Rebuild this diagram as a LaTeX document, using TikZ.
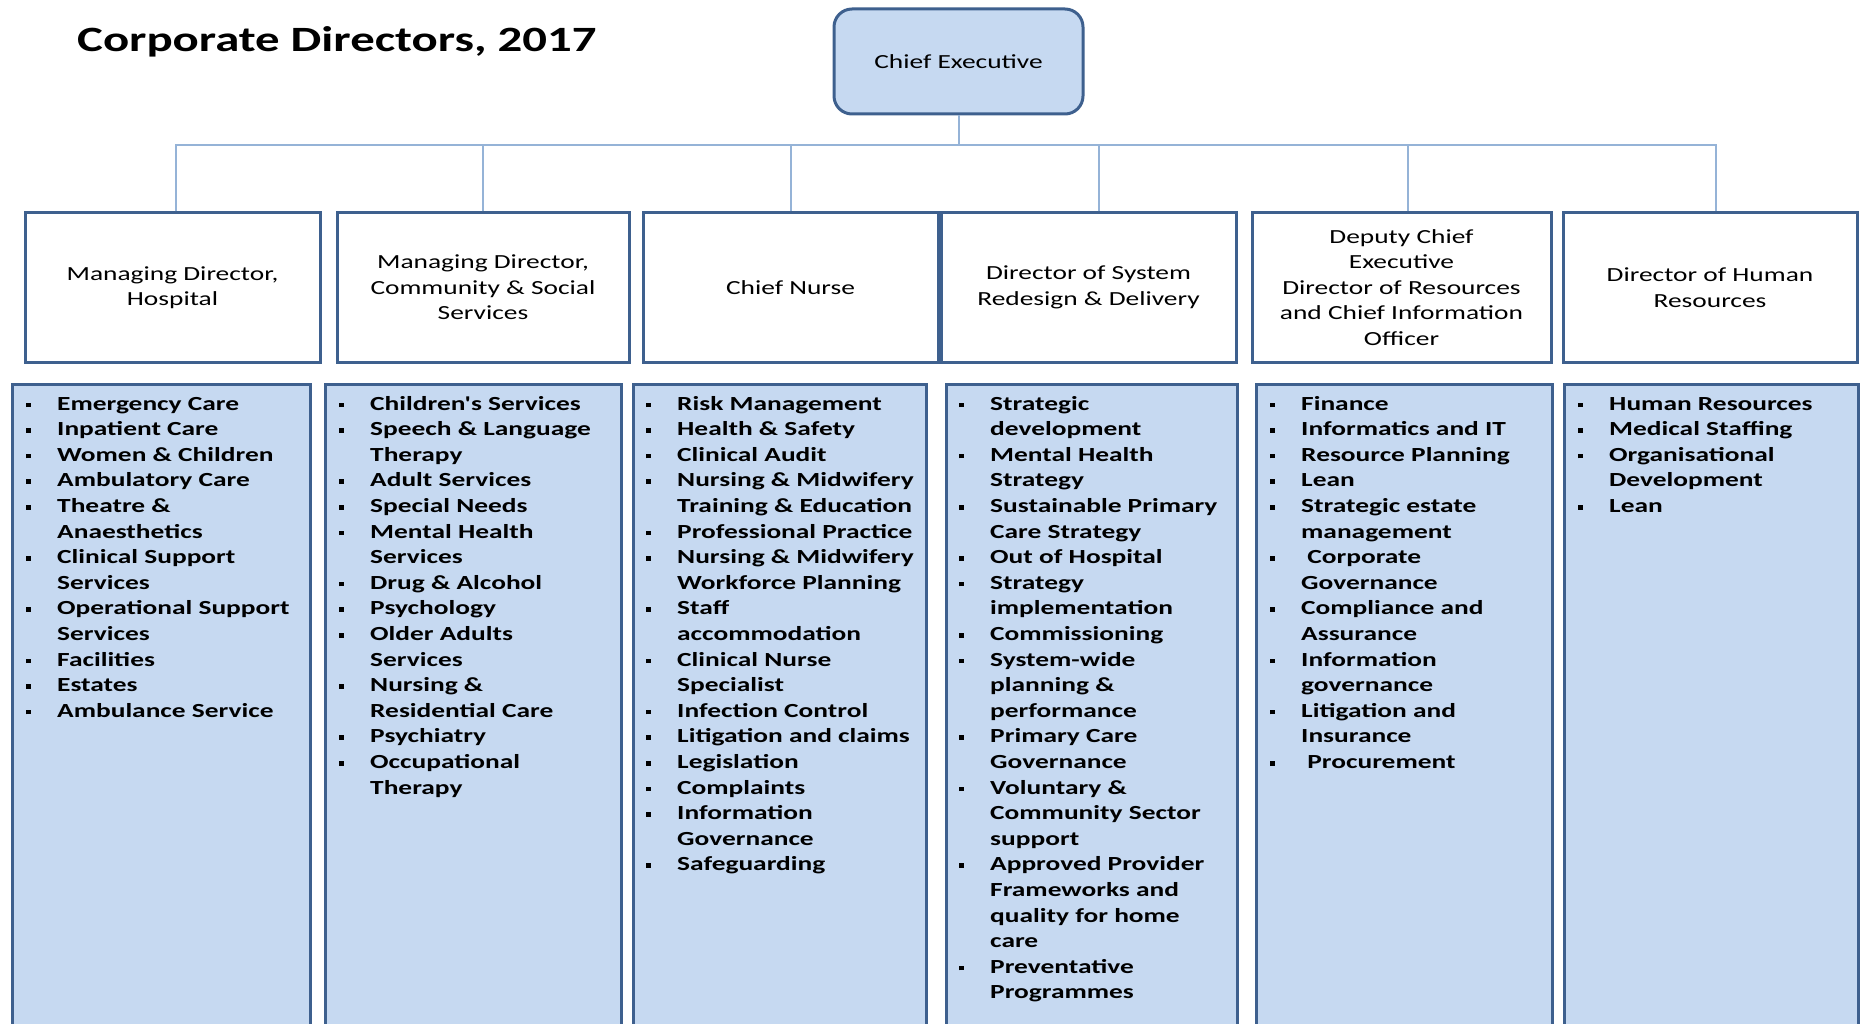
\documentclass[tikz,border=0pt]{standalone}
\usepackage{fontspec}
\usepackage{tikz}
\newfontfamily\chartfont[FakeStretch=1.37]{Carlito}
\definecolor{boxfill}{RGB}{198,217,241}
\definecolor{boxedge}{RGB}{62,96,142}
\definecolor{linkblue}{RGB}{149,179,215}
\newcommand{\bl}{\strut\makebox[33pt][l]{\hspace{2pt}\raisebox{3pt}{\rule{4.5pt}{4.5pt}}}}
\newcommand{\nb}{\strut\hspace*{33pt}}

\begin{document}
\begin{tikzpicture}[x=1pt,y=1pt,yscale=-1,xscale=1,
  dirbox/.style={draw=boxedge, line width=3pt, fill=white, minimum height=149pt, inner sep=0pt, align=center, font=\chartfont\fontsize{20}{25.5}\selectfont},
  listbox/.style={draw=boxedge, line width=3pt, fill=boxfill, minimum height=656pt, inner sep=0pt},
  listtext/.style={anchor=north west, inner sep=0pt, align=left, font=\chartfont\bfseries\fontsize{20}{25.6}\selectfont},
  link/.style={draw=linkblue, line width=2pt}]
\clip (0,0) rectangle (1860,1024);

% Text Node
\node [anchor=base west, inner sep=0pt, font=\chartfont\bfseries\fontsize{35.6}{40}\selectfont] (title) at (77,52) {Corporate Directors, 2017};

%Shape: Rounded Rect
\node [draw=boxedge, line width=3pt, fill=boxfill, rounded corners=18pt, minimum width=249pt, minimum height=105pt, font=\chartfont\fontsize{20}{25.5}\selectfont] (ceo) at (958.5,61.5) {Chief Executive};

%Shape: Rectangle
\node [dirbox, minimum width=295pt] (hosp) at (172.5,287.5) {Managing Director,\\Hospital};
\node [dirbox, minimum width=292pt] (comm) at (483,287.5) {Managing Director,\\Community \& Social\\Services};
\node [dirbox, minimum width=295pt] (nurse) at (790.5,287.5) {Chief Nurse};
\node [dirbox, minimum width=295pt] (sysd) at (1088.5,287.5) {Director of System\\Redesign \& Delivery};
\node [dirbox, minimum width=299pt] (dce) at (1401.5,287.5) {Deputy Chief\\Executive\\Director of Resources\\and Chief Information\\Officer};
\node [dirbox, minimum width=294pt] (hr) at (1710,287.5) {Director of Human\\Resources};

%Straight Lines
\coordinate (bus) at (0,145);
\draw [link] (ceo.south) -- (ceo.south |- bus);
\draw [link] ([xshift=3pt]hosp.north) -- ([xshift=3pt]hosp.north |- bus) -- ([xshift=6pt]hr.north |- bus) -- ([xshift=6pt]hr.north);
\draw [link] (comm.north) -- (comm.north |- bus);
\draw [link] (nurse.north) -- (nurse.north |- bus);
\draw [link] ([xshift=10pt]sysd.north) -- ([xshift=10pt]sysd.north |- bus);
\draw [link] ([xshift=6pt]dce.north) -- ([xshift=6pt]dce.north |- bus);

%Shape: Rectangle
\node [listbox, minimum width=298pt] (hospbox) at (161,712) {};
\node [listbox, minimum width=296pt] (commbox) at (473,712) {};
\node [listbox, minimum width=293pt] (nursebox) at (779.5,712) {};
\node [listbox, minimum width=291pt] (sysdbox) at (1091.5,712) {};
\node [listbox, minimum width=296pt] (dcebox) at (1404,712) {};
\node [listbox, minimum width=294pt] (hrbox) at (1711.5,712) {};

% Text Node
\node [listtext] (hosplist) at (24,392) {\bl Emergency Care\\ \bl Inpatient Care\\ \bl Women \& Children\\ \bl Ambulatory Care\\ \bl Theatre \&\\ \nb Anaesthetics\\ \bl Clinical Support\\ \nb Services\\ \bl Operational Support\\ \nb Services\\ \bl Facilities\\ \bl Estates\\ \bl Ambulance Service};
% Text Node
\node [listtext] (commlist) at (337,392) {\bl Children's Services\\ \bl Speech \& Language\\ \nb Therapy\\ \bl Adult Services\\ \bl Special Needs\\ \bl Mental Health\\ \nb Services\\ \bl Drug \& Alcohol\\ \bl Psychology\\ \bl Older Adults\\ \nb Services\\ \bl Nursing \&\\ \nb Residential Care\\ \bl Psychiatry\\ \bl Occupational\\ \nb Therapy};
% Text Node
\node [listtext] (nurselist) at (644,392) {\bl Risk Management\\ \bl Health \& Safety\\ \bl Clinical Audit\\ \bl Nursing \& Midwifery\\ \nb Training \& Education\\ \bl Professional Practice\\ \bl Nursing \& Midwifery\\ \nb Workforce Planning\\ \bl Staff\\ \nb accommodation\\ \bl Clinical Nurse\\ \nb Specialist\\ \bl Infection Control\\ \bl Litigation and claims\\ \bl Legislation\\ \bl Complaints\\ \bl Information\\ \nb Governance\\ \bl Safeguarding};
% Text Node
\node [listtext] (sysdlist) at (957,392) {\bl Strategic\\ \nb development\\ \bl Mental Health\\ \nb Strategy\\ \bl Sustainable Primary\\ \nb Care Strategy\\ \bl Out of Hospital\\ \bl Strategy\\ \nb implementation\\ \bl Commissioning\\ \bl System-wide\\ \nb planning \&\\ \nb performance\\ \bl Primary Care\\ \nb Governance\\ \bl Voluntary \&\\ \nb Community Sector\\ \nb support\\ \bl Approved Provider\\ \nb Frameworks and\\ \nb quality for home\\ \nb care\\ \bl Preventative\\ \nb Programmes};
% Text Node
\node [listtext] (dcelist) at (1268,392) {\bl Finance\\ \bl Informatics and IT\\ \bl Resource Planning\\ \bl Lean\\ \bl Strategic estate\\ \nb management\\ \bl ~Corporate\\ \nb Governance\\ \bl Compliance and\\ \nb Assurance\\ \bl Information\\ \nb governance\\ \bl Litigation and\\ \nb Insurance\\ \bl ~Procurement};
% Text Node
\node [listtext] (hrlist) at (1576,392) {\bl Human Resources\\ \bl Medical Staffing\\ \bl Organisational\\ \nb Development\\ \bl Lean};

\end{tikzpicture}
\end{document}
